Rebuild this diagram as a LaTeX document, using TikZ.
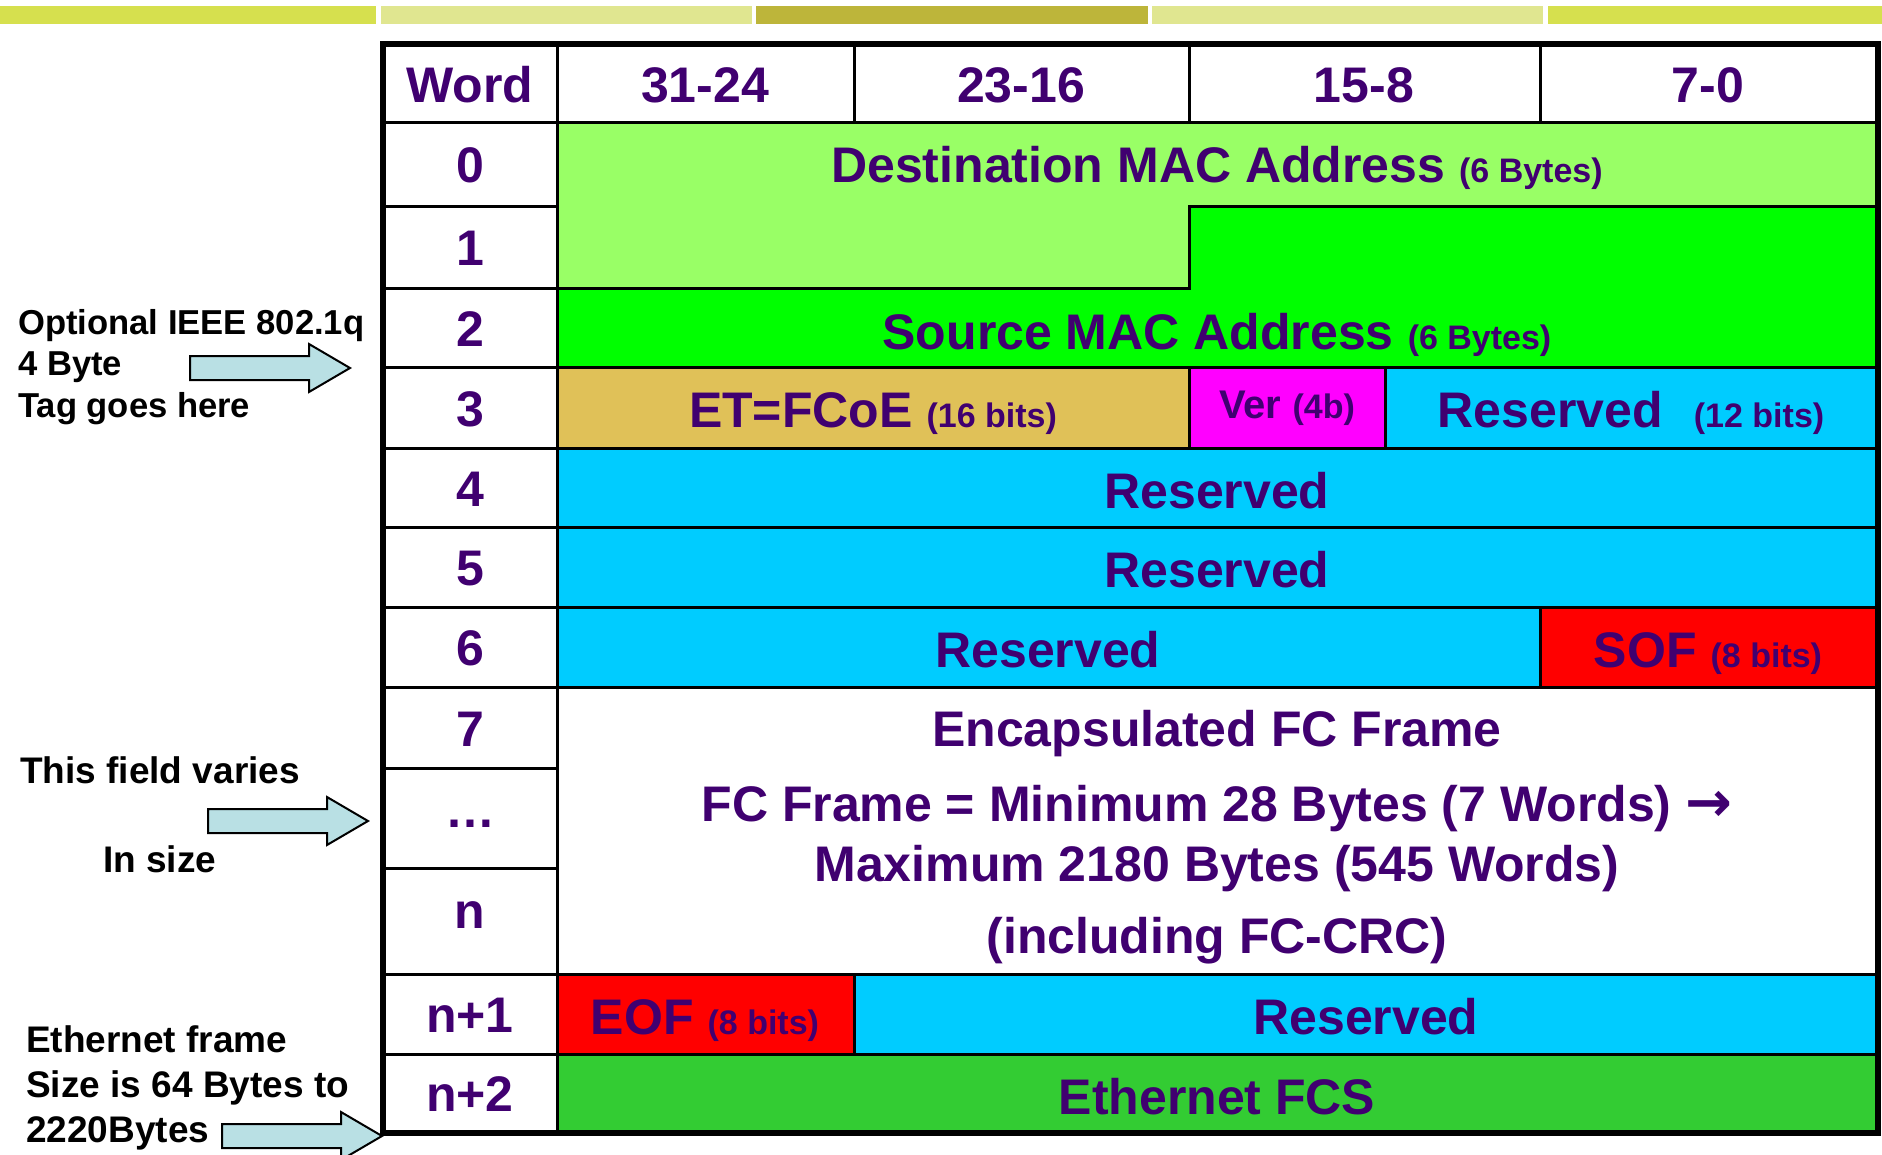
\documentclass[tikz,border=0pt]{standalone}
\usepackage{fontspec}
\setmainfont{Liberation Sans}
\newfontfamily\arrowfont{DejaVu Sans}

\definecolor{fieldtext}{RGB}{64,0,112}
\definecolor{barA}{RGB}{214,224,78}
\definecolor{barB}{RGB}{224,230,144}
\definecolor{barC}{RGB}{189,181,58}
\definecolor{dstgreen}{RGB}{153,255,102}
\definecolor{srcgreen}{RGB}{0,255,0}
\definecolor{etgold}{RGB}{224,193,88}
\definecolor{vermag}{RGB}{255,0,255}
\definecolor{rescyan}{RGB}{0,204,255}
\definecolor{sofred}{RGB}{255,0,0}
\definecolor{fcsgreen}{RGB}{51,204,51}
\definecolor{arrowfill}{RGB}{185,224,228}

\newcommand{\smallbits}[1]{{\fontsize{34}{40}\selectfont #1}}

\begin{document}
\begin{tikzpicture}[x=1pt,y=-1pt,
	hdr/.style={text=fieldtext,font=\bfseries\fontsize{50}{60}\selectfont,inner sep=0,anchor=base},
	note/.style={text=black,font=\bfseries\fontsize{37}{45}\selectfont,inner sep=0,align=left,anchor=base west},
	rule/.style={line width=3pt},
	tagarrow/.style={draw,line width=2pt,fill=arrowfill,line join=miter}]
	\useasboundingbox (0,0) rectangle (1882,1154);
	\clip (0,0) rectangle (1882,1154);

	\fill[barA] (0,6) rectangle (376,24);
	\fill[barB] (381,6) rectangle (752,24);
	\fill[barC] (756,6) rectangle (1148,24);
	\fill[barB] (1152,6) rectangle (1543,24);
	\fill[barA] (1548,6) rectangle (1882,24);

	\fill[dstgreen] (557,122) -- (1877,122) -- (1877,206) -- (1189,206) -- (1189,288) -- (557,288) -- cycle;
	\fill[srcgreen] (1189,206) -- (1877,206) -- (1877,367) -- (557,367) -- (557,288) -- (1189,288) -- cycle;
	\fill[etgold] (557,367) rectangle (1189,448);
	\fill[vermag] (1189,367) rectangle (1385,448);
	\fill[rescyan] (1385,367) rectangle (1877,448);
	\fill[rescyan] (557,448) rectangle (1877,607);
	\fill[rescyan] (557,607) rectangle (1540,687);
	\fill[sofred] (1540,607) rectangle (1877,687);
	\fill[sofred] (557,974) rectangle (854,1054);
	\fill[rescyan] (854,974) rectangle (1877,1054);
	\fill[fcsgreen] (557,1054) rectangle (1877,1133);

	\draw[rule] (383,122) -- (1877,122);
	\foreach \xx in {854,1189,1540} \draw[rule] (\xx,44) -- (\xx,122);
	\draw[rule] (557,44) -- (557,1133);
	\foreach \yy in {206,288,768,868} \draw[rule] (383,\yy) -- (557,\yy);
	\draw[rule] (557,288) -- (1189,288) -- (1189,206) -- (1877,206);
	\foreach \yy in {367,448,527,607,687,974,1054} \draw[rule] (383,\yy) -- (1877,\yy);
	\draw[rule] (1189,367) -- (1189,448);
	\draw[rule] (1385,367) -- (1385,448);
	\draw[rule] (1540,607) -- (1540,687);
	\draw[rule] (854,974) -- (854,1054);
	\draw[line width=6pt] (383,44) rectangle (1878,1133);

	\node[hdr] (word) at (470,102) {Word};
	\foreach \lbl/\xx [count=\k] in {31-24/705,23-16/1021,15-8/1364,7-0/1708}
		\node[hdr] (bits\k) at (\xx,102) {\lbl};
	\foreach \lbl/\yy [count=\k] in {0/182,1/265,2/346,3/426,4/506,5/585,6/665,7/746,n+1/1032,n+2/1111}
		\node[hdr] (rowlbl\k) at (470,\yy) {\lbl};
	\node[hdr] (rowdots) at (470,827) {…};
	\node[hdr] (rown) at (470,928) {n};

	\node[hdr] (dstmac) at (1217,182) {Destination MAC Address \smallbits{(6 Bytes)}};
	\node[hdr] (srcmac) at (1217,349) {Source MAC Address \smallbits{(6 Bytes)}};
	\node[hdr] (ethtype) at (873,427) {ET=FCoE \smallbits{(16 bits)}};
	\node[hdr] (ver) at (1287,418) {\fontsize{40}{48}\selectfont Ver \smallbits{(4b)}};
	\node[hdr] (resver) at (1631,427) {Reserved\hspace{31pt}\smallbits{(12 bits)}};
	\node[hdr] (resfour) at (1217,508) {Reserved};
	\node[hdr] (resfive) at (1217,587) {Reserved};
	\node[hdr] (ressix) at (1048,667) {Reserved};
	\node[hdr] (sof) at (1708,667) {SOF \smallbits{(8 bits)}};
	\node[hdr] (frame1) at (1217,746) {Encapsulated FC Frame};
	\node[hdr] (frame2) at (1217,821) {FC Frame = Minimum 28 Bytes (7 Words) {\arrowfont\fontsize{56}{60}\selectfont →}};
	\node[hdr] (frame3) at (1217,881) {Maximum 2180 Bytes (545 Words)};
	\node[hdr] (frame4) at (1217,953) {(including FC-CRC)};
	\node[hdr] (eof) at (705,1034) {EOF \smallbits{(8 bits)}};
	\node[hdr] (resend) at (1366,1034) {Reserved};
	\node[hdr] (fcs) at (1217,1114) {Ethernet FCS};

	\node[note,font=\bfseries\fontsize{34.6}{41.5}\selectfont] (tagnote) at (18,417) {Optional IEEE 802.1q\\4 Byte\\Tag goes here};
	\node[note] (varynote) at (20,783) {This field varies};
	\node[note] (sizenote) at (103,872) {In size};
	\node[note] (ethnote) at (26,1142) {Ethernet frame\\Size is 64 Bytes to\\2220Bytes};

	\coordinate (tagtip) at (350,368);
	\coordinate (varytip) at (368,821);
	\coordinate (ethtip) at (382,1136);
	\foreach \tip in {tagtip,varytip,ethtip}
		\draw[tagarrow] (\tip) -- ++(-41,-24) -- ++(0,12) -- ++(-119,0) -- ++(0,24) -- ++(119,0) -- ++(0,12) -- cycle;
\end{tikzpicture}
\end{document}
